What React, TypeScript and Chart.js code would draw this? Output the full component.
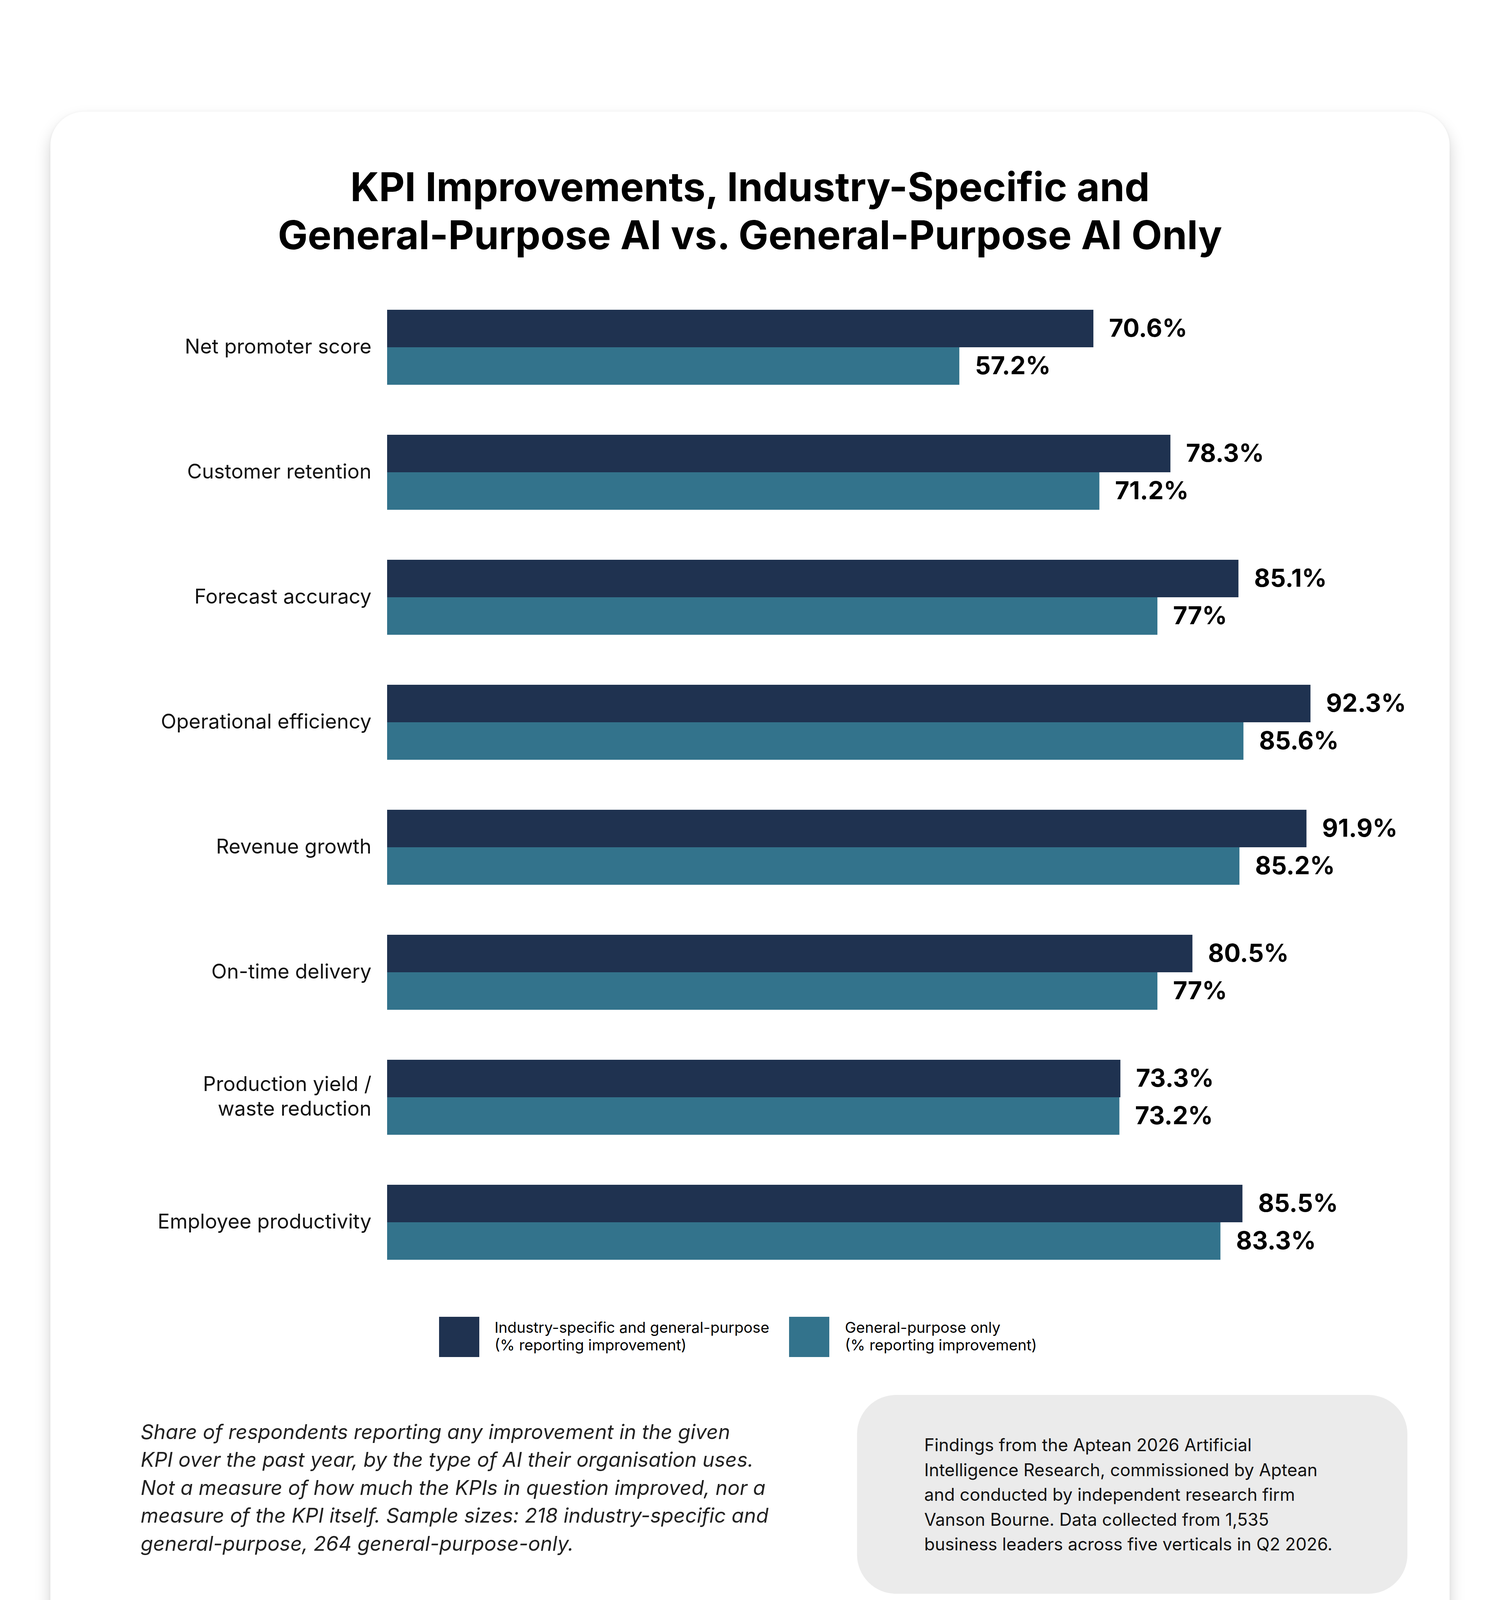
import React, { useEffect, useRef } from 'react';
import { Chart, registerables, Plugin } from 'chart.js';

Chart.register(...registerables);

const categories: (string | string[])[] = [
	'Net promoter score',
	'Customer retention',
	'Forecast accuracy',
	'Operational efficiency',
	'Revenue growth',
	'On-time delivery',
	['Production yield /', 'waste reduction'],
	'Employee productivity',
];

const industryAndGeneral = [70.6, 78.3, 85.1, 92.3, 91.9, 80.5, 73.3, 85.5];
const generalOnly = [57.2, 71.2, 77, 85.6, 85.2, 77, 73.2, 83.3];

const seriesLabels = [
	['Industry-specific and general-purpose', '(% reporting improvement)'],
	['General-purpose only', '(% reporting improvement)'],
];

const DARK = '#1F3250';
const TEAL = '#33738C';
const FONT = 'Inter, "Noto Sans", sans-serif';

// draws the percentage to the right of each bar
const valueLabels: Plugin<'bar'> = {
	id: 'valueLabels',
	afterDatasetsDraw(chart) {
		const { ctx } = chart;
		ctx.save();
		ctx.font = `700 63px ${FONT}`;
		ctx.fillStyle = '#000';
		ctx.textAlign = 'left';
		ctx.textBaseline = 'middle';
		chart.data.datasets.forEach((ds, i) => {
			const meta = chart.getDatasetMeta(i);
			meta.data.forEach((bar, j) => {
				const v = ds.data[j] as number;
				ctx.fillText(`${v}%`, bar.x + 40, bar.y + 2);
			});
		});
		ctx.restore();
	},
};

const KpiChart: React.FC = () => {
	const canvasRef = useRef<HTMLCanvasElement | null>(null);
	const chartRef = useRef<Chart | null>(null);

	useEffect(() => {
		const canvas = canvasRef.current;
		if (!canvas) return;
		if (chartRef.current) chartRef.current.destroy();

		chartRef.current = new Chart(canvas, {
			type: 'bar',
			data: {
				labels: categories,
				datasets: [
					{
						label: seriesLabels[0].join(' '),
						data: industryAndGeneral,
						backgroundColor: DARK,
						barPercentage: 1,
						categoryPercentage: 0.6,
					},
					{
						label: seriesLabels[1].join(' '),
						data: generalOnly,
						backgroundColor: TEAL,
						barPercentage: 1,
						categoryPercentage: 0.6,
					},
				],
			},
			options: {
				indexAxis: 'y',
				animation: false,
				responsive: true,
				maintainAspectRatio: false,
				layout: { padding: { top: 29, bottom: 31, right: 148, left: 0 } },
				plugins: {
					legend: { display: false },
					tooltip: { enabled: false },
				},
				scales: {
					x: {
						display: false,
						min: 0,
						max: 100,
					},
					y: {
						grid: { display: false, drawTicks: false },
						border: { display: false },
						afterFit: (scale) => {
							scale.width = 791;
							// keep the tick labels from pushing the plot area inwards
							scale.paddingTop = 0;
							scale.paddingBottom = 0;
						},
						ticks: {
							padding: 40,
							color: '#111',
							font: { family: FONT, size: 52, lineHeight: 1.2 },
						},
					},
				},
			},
			plugins: [valueLabels],
		});

		return () => {
			if (chartRef.current) {
				chartRef.current.destroy();
				chartRef.current = null;
			}
		};
	}, []);

	return (
		<div style={{ position: 'absolute', left: 200, top: 700, width: 3500, height: 2620 }}>
			<canvas ref={canvasRef} />
		</div>
	);
};

const footnoteLines = [
	'Share of respondents reporting any improvement in the given',
	'KPI over the past year, by the type of AI their organisation uses.',
	'Not a measure of how much the KPIs in question improved, nor a',
	'measure of the KPI itself. Sample sizes: 218 industry-specific and',
	'general-purpose, 264 general-purpose-only.',
];

const sourceLines = [
	'Findings from the Aptean 2026 Artificial',
	'Intelligence Research, commissioned by Aptean',
	'and conducted by independent research firm',
	'Vanson Bourne. Data collected from 1,535',
	'business leaders across five verticals in Q2 2026.',
];

const LegendItem: React.FC<{ left: number; textLeft: number; color: string; lines: string[] }> = ({
	left,
	textLeft,
	color,
	lines,
}) => (
	<>
		<div style={{ position: 'absolute', left, top: 3371, width: 103, height: 103, background: color }} />
		<div
			style={{
				position: 'absolute',
				left: textLeft,
				top: 3376,
				fontSize: 38.5,
				lineHeight: '45px',
				color: '#000',
				whiteSpace: 'nowrap',
			}}
		>
			{lines.map((l, i) => (
				<div key={i}>{l}</div>
			))}
		</div>
	</>
);

const App: React.FC = () => {
	return (
		<div
			style={{
				position: 'absolute',
				left: 0,
				top: 0,
				width: 3840,
				height: 4481,
				background: '#fff',
				fontFamily: FONT,
				overflow: 'hidden',
			}}
		>
			<div
				style={{
					position: 'absolute',
					left: 129,
					top: 286,
					width: 3582,
					height: 3905,
					borderRadius: 86,
					background: '#fff',
					boxShadow: '0 22px 40px rgba(0,0,0,0.18), 0 0 8px rgba(0,0,0,0.04)',
				}}
			/>
			<div
				style={{
					position: 'absolute',
					left: 0,
					top: 417,
					width: 3840,
					textAlign: 'center',
					fontSize: 102,
					fontWeight: 700,
					lineHeight: '123px',
					color: '#000',
				}}
			>
				KPI Improvements, Industry-Specific and
				<br />
				General-Purpose AI vs. General-Purpose AI Only
			</div>

			<KpiChart />

			<LegendItem left={1124} textLeft={1266} color={DARK} lines={seriesLabels[0]} />
			<LegendItem left={2020} textLeft={2163} color={TEAL} lines={seriesLabels[1]} />

			<div
				style={{
					position: 'absolute',
					left: 360,
					top: 3630,
					fontSize: 52,
					fontStyle: 'italic',
					lineHeight: '71.4px',
					color: '#222',
					whiteSpace: 'nowrap',
				}}
			>
				{footnoteLines.map((l, i) => (
					<div key={i}>{l}</div>
				))}
			</div>

			<div
				style={{
					position: 'absolute',
					left: 2194,
					top: 3571,
					width: 1409,
					height: 509,
					borderRadius: 100,
					background: '#EBEBEB',
				}}
			/>
			<div
				style={{
					position: 'absolute',
					left: 2366,
					top: 3668,
					fontSize: 44.5,
					lineHeight: '63.5px',
					color: '#111',
					whiteSpace: 'nowrap',
				}}
			>
				{sourceLines.map((l, i) => (
					<div key={i}>{l}</div>
				))}
			</div>
		</div>
	);
};

export default App;
